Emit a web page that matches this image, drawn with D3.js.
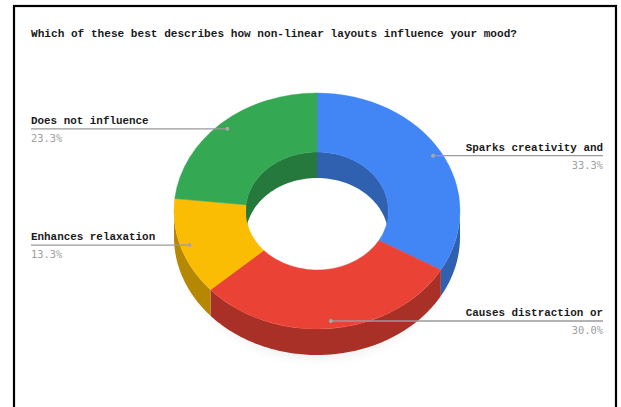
<!DOCTYPE html>
<html>
<head>
<meta charset="utf-8">
<script src="https://cdn.jsdelivr.net/npm/d3@7"></script>
<style>
  html, body { margin: 0; padding: 0; background: #fff; }
  svg { display: block; }
</style>
</head>
<body>
<svg id="chart" width="621" height="407"></svg>
<script>
// Survey answers, clockwise from 12 o'clock
const categories = ["Sparks creativity and", "Causes distraction or", "Enhances relaxation", "Does not influence"];
const shares = [33.3, 30.0, 13.3, 23.3];
const shareLabels = ["33.3%", "30.0%", "13.3%", "23.3%"];
const colors = ["#4285F4", "#EA4335", "#FBBC04", "#34A853"];
const shadeColors = ["#3060b0", "#a83026", "#b58703", "#25793c"];
const title = "Which of these best describes how non-linear layouts influence your mood?";

const W = 621, H = 407;
const svg = d3.select("#chart");

// frame
svg.append("rect")
  .attr("x", 14).attr("y", 6).attr("width", 602).attr("height", H + 20)
  .attr("fill", "#fff").attr("stroke", "#000").attr("stroke-width", 2.2);

svg.append("text")
  .attr("x", 31).attr("y", 37)
  .attr("font-family", "'Liberation Mono', 'Courier New', monospace")
  .attr("font-weight", "bold")
  .attr("font-size", 11.1)
  .attr("fill", "#1a1a1a")
  .text(title);

// 3D donut geometry
const cx = 317, cy = 211;
const rOuter = 143, rInner = 71.5;
const tilt = 118 / 143;   // vertical squash of the top face
const depth = 26;

const pie = d3.pie().sort(null).value(d => d)
  .startAngle(0).endAngle(2 * Math.PI);
const arcs = pie(shares);

// point on the ring at angle a (clockwise from top), radius r, dropped by z
const pt = (a, r, z) => [cx + r * Math.sin(a), cy - r * Math.cos(a) * tilt + z];

function wallPath(a0, a1, r) {
  const n = Math.max(2, Math.ceil((a1 - a0) / 0.02));
  const angs = d3.range(n + 1).map(i => a0 + (a1 - a0) * i / n);
  const top = angs.map(a => pt(a, r, 0));
  const bot = angs.slice().reverse().map(a => pt(a, r, depth));
  return d3.line()(top.concat(bot)) + "Z";
}

// soft shadow under the ring
const defs = svg.append("defs");
defs.append("filter").attr("id", "soft")
  .attr("x", "-20%").attr("y", "-50%").attr("width", "140%").attr("height", "200%")
  .append("feGaussianBlur").attr("stdDeviation", 5);
svg.append("ellipse")
  .attr("cx", cx).attr("cy", cy + depth + 5)
  .attr("rx", rOuter - 6).attr("ry", rOuter * tilt)
  .attr("fill", "#000").attr("opacity", 0.05)
  .attr("filter", "url(#soft)");

const g = svg.append("g");

// the hole through the ring stays clear
g.append("ellipse")
  .attr("cx", cx).attr("cy", cy)
  .attr("rx", rInner).attr("ry", rInner * tilt)
  .attr("fill", "#fff");

// outer side wall: only the near half (pi/2 .. 3pi/2) faces the viewer
arcs.forEach((d, i) => {
  const a0 = Math.max(d.startAngle, Math.PI / 2);
  const a1 = Math.min(d.endAngle, 3 * Math.PI / 2);
  if (a1 > a0) {
    g.append("path").attr("d", wallPath(a0, a1, rOuter)).attr("fill", shadeColors[i]);
  }
});

// inner wall: only the far half of the hole is seen
const farRanges = [[0, Math.PI / 2], [3 * Math.PI / 2, 2 * Math.PI]];
arcs.forEach((d, i) => {
  farRanges.forEach(([lo, hi]) => {
    const a0 = Math.max(d.startAngle, lo);
    const a1 = Math.min(d.endAngle, hi);
    if (a1 > a0) {
      g.append("path").attr("d", wallPath(a0, a1, rInner)).attr("fill", shadeColors[i]);
    }
  });
});

// top faces
const arcGen = d3.arc().innerRadius(rInner).outerRadius(rOuter);
g.append("g")
  .attr("transform", `translate(${cx},${cy}) scale(1,${tilt})`)
  .selectAll("path").data(arcs).join("path")
  .attr("d", arcGen)
  .attr("fill", (d, i) => colors[i])
  .attr("stroke", (d, i) => colors[i])
  .attr("stroke-width", 0.5);

// leader lines and labels
const labelFont = "'Liberation Mono', 'Courier New', monospace";
const dotR = 134;
arcs.forEach((d, i) => {
  const mid = (d.startAngle + d.endAngle) / 2;
  const [px, py] = pt(mid, dotR, 0);
  const right = Math.sin(mid) > 0;
  const xEnd = right ? 603 : 31;
  svg.append("line")
    .attr("x1", px).attr("y1", py).attr("x2", xEnd).attr("y2", py)
    .attr("stroke", "#9a9a9a").attr("stroke-width", 1.3);
  svg.append("circle")
    .attr("cx", px).attr("cy", py).attr("r", 2)
    .attr("fill", "#a8a8a8");
  svg.append("text")
    .attr("x", xEnd).attr("y", py - 5)
    .attr("text-anchor", right ? "end" : "start")
    .attr("font-family", labelFont).attr("font-weight", "bold")
    .attr("font-size", 10.9).attr("fill", "#1a1a1a")
    .text(categories[i]);
  svg.append("text")
    .attr("x", xEnd).attr("y", py + 13)
    .attr("text-anchor", right ? "end" : "start")
    .attr("font-family", "'DejaVu Sans Mono', monospace")
    .attr("font-size", 10.4).attr("fill", "#a0a0a0")
    .text(shareLabels[i]);
});
</script>
</body>
</html>
